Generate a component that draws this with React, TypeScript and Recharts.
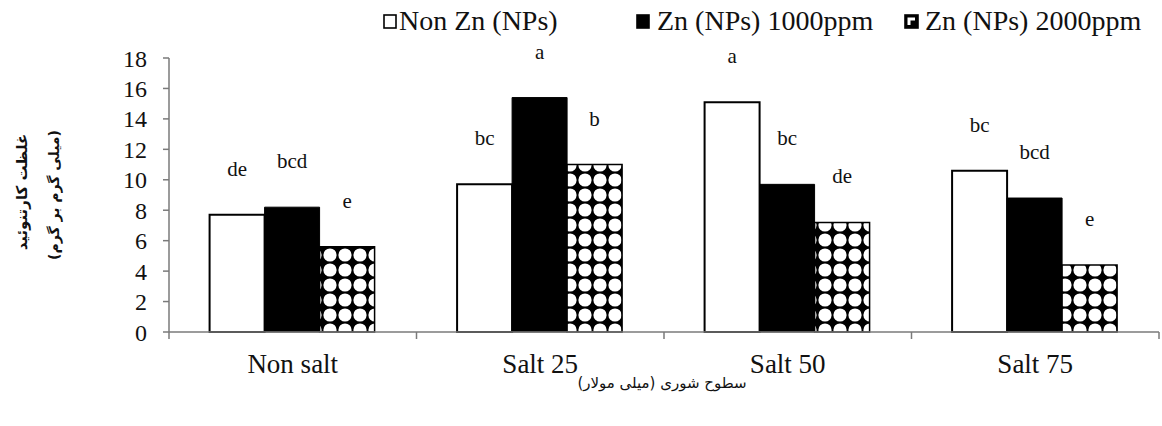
import React from 'react';
import { BarChart, Bar, XAxis, YAxis, LabelList } from 'recharts';

const categories = ['Non salt', 'Salt 25', 'Salt 50', 'Salt 75'];
const nonZn = [7.7, 9.7, 15.1, 10.6];
const zn1000 = [8.2, 15.4, 9.7, 8.8];
const zn2000 = [5.6, 11.0, 7.2, 4.4];
const lettersNonZn = ['de', 'bc', 'a', 'bc'];
const letters1000 = ['bcd', 'a', 'bc', 'bcd'];
const letters2000 = ['e', 'b', 'de', 'e'];
const yTicks = [0, 2, 4, 6, 8, 10, 12, 14, 16, 18];
const seriesNames = ['Non Zn (NPs)', 'Zn (NPs) 1000ppm', 'Zn (NPs) 2000ppm'];

const data = categories.map((name, i) => ({
  name,
  nonZn: nonZn[i],
  zn1000: zn1000[i],
  zn2000: zn2000[i],
  lNonZn: lettersNonZn[i],
  l1000: letters1000[i],
  l2000: letters2000[i],
}));

const serif = '"Liberation Serif", Tinos, "Times New Roman", Times, "DejaVu Serif", serif';
const arabicFont = '"DejaVu Sans", "Noto Sans", sans-serif';
const axisGray = '#7a7a7a';

// legend item left edges
const legendLeft = [383, 636, 904];

const XTick = (props: any) => {
  const { x, y, payload, index } = props;
  const half = payload.offset ?? 124;
  return (
    <g>
      {index === 0 && (
        <line x1={x - half} x2={x - half} y1={y} y2={y + 7} stroke={axisGray} strokeWidth={1.5} />
      )}
      <line x1={x + half} x2={x + half} y1={y} y2={y + 7} stroke={axisGray} strokeWidth={1.5} />
      <text x={x} y={y + 41} textAnchor="middle" style={{ fontFamily: serif }} fontSize={27} fill="#111">
        {payload.value}
      </text>
    </g>
  );
};

const letterLabel = (props: any) => {
  const { x, y, width, value } = props;
  return (
    <text x={x + width / 2} y={y - 39} textAnchor="middle" style={{ fontFamily: serif }} fontSize={21} fill="#111">
      {value}
    </text>
  );
};

const LegendIcon = ({ kind }: { kind: number }) => (
  <svg width={15} height={15} style={{ marginRight: kind === 0 ? 1 : 6 }}>
    {kind === 0 && <rect x={1} y={1} width={12} height={13} fill="#fff" stroke="#000" strokeWidth={1.6} />}
    {kind === 1 && <rect x={1} y={1} width={12} height={13} fill="#000" stroke="#000" strokeWidth={1.6} />}
    {kind === 2 && (
      <g>
        <rect x={1} y={1} width={13} height={13} fill="#000" stroke="#000" strokeWidth={1.6} />
        <polygon points="3.5,3.5 11,3.5 11,6.5 6.5,6.5 6.5,11 3.5,11" fill="#fff" />
      </g>
    )}
  </svg>
);

export default function App() {
  return (
    <div style={{ position: 'absolute', left: 0, top: 0, width: 1162, height: 426, background: '#fff' }}>
      {seriesNames.map((n, i) => (
        <div
          key={n}
          style={{
            position: 'absolute',
            top: 5,
            left: legendLeft[i],
            display: 'flex',
            alignItems: 'center',
            fontFamily: serif,
            fontSize: 28,
            lineHeight: '32px',
            color: '#111',
            whiteSpace: 'nowrap',
          }}
        >
          <LegendIcon kind={i} />
          <span>{n}</span>
        </div>
      ))}

      <div
        style={{
          position: 'absolute',
          left: 22,
          top: 192,
          transform: 'translate(-50%, -50%) rotate(-90deg)',
          fontFamily: arabicFont,
          fontWeight: 'bold',
          fontSize: 15,
          whiteSpace: 'nowrap',
          color: '#111',
        }}
      >
        غلظت کارتنوئید
      </div>
      <div
        style={{
          position: 'absolute',
          left: 54,
          top: 195,
          transform: 'translate(-50%, -50%) rotate(-90deg)',
          fontFamily: arabicFont,
          fontWeight: 'bold',
          fontSize: 14,
          whiteSpace: 'nowrap',
          color: '#111',
        }}
      >
        (میلی گرم بر گرم)
      </div>
      <div
        style={{
          position: 'absolute',
          left: 662,
          top: 383,
          transform: 'translate(-50%, -50%)',
          fontFamily: arabicFont,
          fontSize: 15,
          whiteSpace: 'nowrap',
          color: '#111',
        }}
      >
        سطوح شوری (میلی مولار)
      </div>

      <BarChart
        width={1162}
        height={426}
        data={data}
        margin={{ top: 58, right: 3, left: 109, bottom: 0 }}
        barCategoryGap="16.4%"
        barGap={0}
        style={{ position: 'absolute', left: 0, top: 0 }}
      >
        <defs>
          <pattern id="dots" width={15} height={15} patternUnits="userSpaceOnUse">
            <rect width={15} height={15} fill="#000" />
            <circle cx={0} cy={0} r={6.6} fill="#fff" />
            <circle cx={15} cy={0} r={6.6} fill="#fff" />
            <circle cx={0} cy={15} r={6.6} fill="#fff" />
            <circle cx={15} cy={15} r={6.6} fill="#fff" />
          </pattern>
        </defs>
        <XAxis
          dataKey="name"
          height={94}
          tickSize={0}
          tickMargin={0}
          tickLine={false}
          axisLine={{ stroke: axisGray, strokeWidth: 1.5 }}
          tick={<XTick />}
          interval={0}
        />
        <YAxis
          width={60}
          domain={[0, 18]}
          ticks={yTicks}
          interval={0}
          tickSize={6}
          tickMargin={16}
          axisLine={{ stroke: axisGray, strokeWidth: 1.5 }}
          tickLine={{ stroke: axisGray, strokeWidth: 1.5 }}
          tick={{ style: { fontFamily: serif }, fontSize: 24, fill: '#111' }}
        />
        <Bar dataKey="nonZn" fill="#fff" stroke="#000" strokeWidth={2} isAnimationActive={false}>
          <LabelList dataKey="lNonZn" content={letterLabel} />
        </Bar>
        <Bar dataKey="zn1000" fill="#000" stroke="#000" strokeWidth={1} isAnimationActive={false}>
          <LabelList dataKey="l1000" content={letterLabel} />
        </Bar>
        <Bar dataKey="zn2000" fill="url(#dots)" stroke="#000" strokeWidth={1.5} isAnimationActive={false}>
          <LabelList dataKey="l2000" content={letterLabel} />
        </Bar>
      </BarChart>
    </div>
  );
}
